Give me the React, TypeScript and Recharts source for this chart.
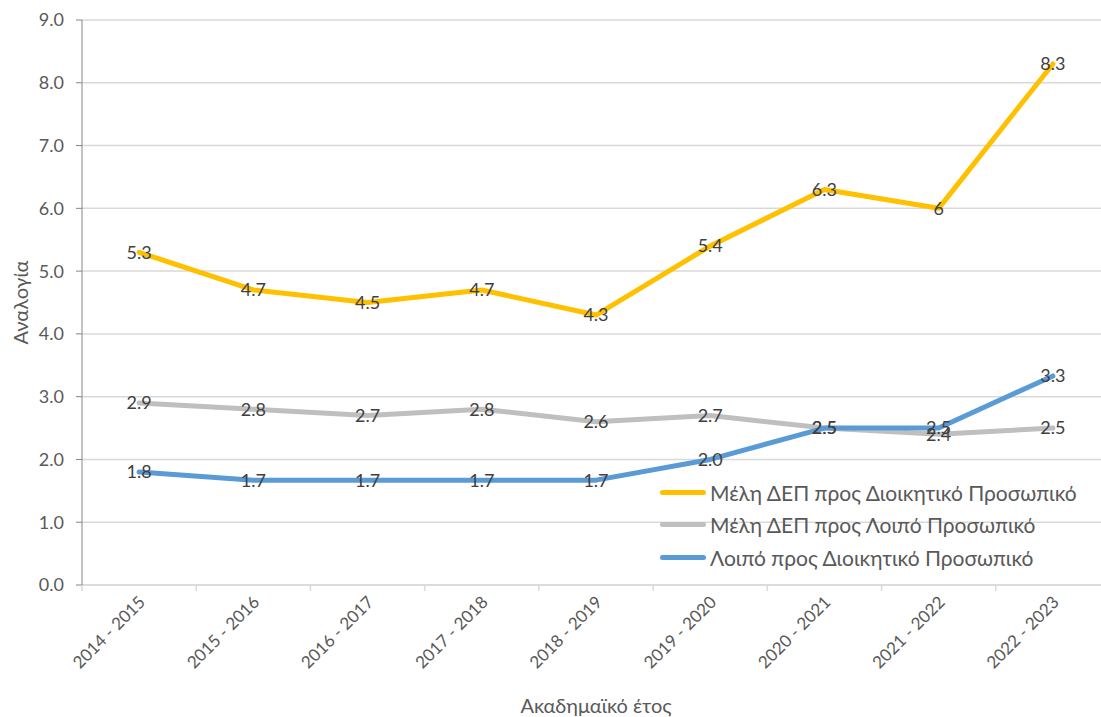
import React from 'react';
import { LineChart, Line, XAxis, YAxis, CartesianGrid, LabelList } from 'recharts';

const years = ['2014 - 2015', '2015 - 2016', '2016 - 2017', '2017 - 2018', '2018 - 2019', '2019 - 2020', '2020 - 2021', '2021 - 2022', '2022 - 2023'];
const depToAdmin = [5.3, 4.7, 4.5, 4.7, 4.3, 5.4, 6.3, 6, 8.3];
const depToOther = [2.9, 2.8, 2.7, 2.8, 2.6, 2.7, 2.5, 2.4, 2.5];
const otherToAdmin = [1.8, 1.67, 1.67, 1.67, 1.67, 2.0, 2.5, 2.5, 3.33];
const yTicks = [0, 1, 2, 3, 4, 5, 6, 7, 8, 9];

const seriesList = [
    { key: 'depToAdmin', name: 'Μέλη ΔΕΠ προς Διοικητικό Προσωπικό', color: '#FFC000', fmt: (v: number) => String(v) },
    { key: 'depToOther', name: 'Μέλη ΔΕΠ προς Λοιπό Προσωπικό', color: '#BFBFBF', fmt: (v: number) => v.toFixed(1) },
    { key: 'otherToAdmin', name: 'Λοιπό προς Διοικητικό Προσωπικό', color: '#5B9BD5', fmt: (v: number) => v.toFixed(1) },
];

const FONT = 'Lato, "Noto Sans", sans-serif';

// x is a numeric index so that tick marks can sit on category boundaries
const data = years.map((y, i) => ({
    x: i,
    depToAdmin: depToAdmin[i],
    depToOther: depToOther[i],
    otherToAdmin: otherToAdmin[i],
}));

const xTicks: number[] = [];
for (let i = -0.5; i <= years.length - 0.5; i += 0.5) xTicks.push(i);

const XTick = (props: any) => {
    const { x, y, payload } = props;
    const v = payload.value;
    if (Math.abs(v - Math.round(v)) > 0.01) {
        // boundary tick mark
        return <line x1={x} x2={x} y1={y - 8} y2={y - 2} stroke="#D9D9D9" strokeWidth={1.5} />;
    }
    return (
        <text x={x + 3} y={y + 6} textAnchor="end" fill="#595959" fontSize={17} fontFamily={FONT}
            transform={`rotate(-45, ${x + 3}, ${y + 6})`} dy="0.35em">
            {years[v]}
        </text>
    );
};

export default function App() {
    return (
        <div style={{ position: 'absolute', left: 0, top: 0, width: 1101, height: 717, overflow: 'hidden', background: '#fff' }}>
            <LineChart width={1112} height={717} data={data} margin={{ top: 20, right: 2, left: 0, bottom: 0 }}>
                <CartesianGrid horizontal vertical={false} stroke="#D9D9D9" strokeWidth={1.5} />
                <XAxis
                    dataKey="x"
                    type="number"
                    domain={[-0.5, years.length - 0.5]}
                    ticks={xTicks}
                    interval={0}
                    tick={<XTick />}
                    tickLine={false}
                    axisLine={{ stroke: '#D9D9D9', strokeWidth: 1.5 }}
                    height={132}
                    label={{ value: 'Ακαδημαϊκό έτος', position: 'insideBottom', offset: 4, fill: '#595959', fontSize: 20, fontFamily: FONT }}
                />
                <YAxis
                    domain={[0, 9]}
                    ticks={yTicks}
                    interval={0}
                    width={82}
                    tickFormatter={(v: number) => v.toFixed(1)}
                    tick={{ fill: '#595959', fontSize: 18, fontFamily: FONT }}
                    tickSize={6}
                    tickMargin={12}
                    tickLine={{ stroke: '#868686' }}
                    axisLine={{ stroke: '#868686' }}
                    label={{ value: 'Αναλογία', angle: -90, position: 'insideLeft', offset: 21, fill: '#595959', fontSize: 20, fontFamily: FONT, style: { textAnchor: 'middle' } }}
                />
                {seriesList.map(s => (
                    <Line
                        key={s.key}
                        dataKey={s.key}
                        name={s.name}
                        type="linear"
                        stroke={s.color}
                        strokeWidth={5}
                        strokeLinecap="round"
                        strokeLinejoin="round"
                        dot={false}
                        activeDot={false}
                        isAnimationActive={false}
                    >
                        <LabelList dataKey={s.key} position="center" formatter={(v: any) => s.fmt(Number(v))}
                            fill="#404040" fontSize={18} fontFamily={FONT} />
                    </Line>
                ))}
            </LineChart>
            <div style={{ position: 'absolute', left: 660, top: 476, fontFamily: FONT }}>
                {seriesList.map(s => (
                    <div key={s.key} style={{ display: 'flex', alignItems: 'center', height: 32.5 }}>
                        <span style={{ display: 'inline-block', width: 46, height: 5, borderRadius: 3, background: s.color, marginRight: 4 }} />
                        <span style={{ fontSize: 21, color: '#595959', whiteSpace: 'nowrap' }}>{s.name}</span>
                    </div>
                ))}
            </div>
        </div>
    );
}
